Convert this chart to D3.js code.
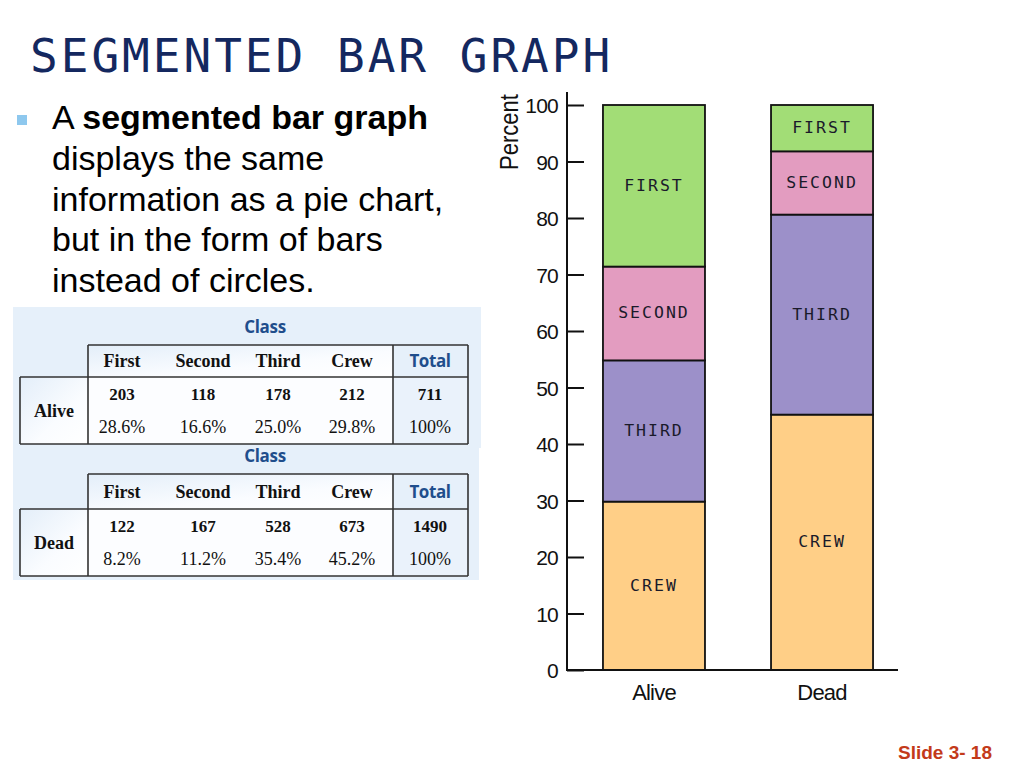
<!DOCTYPE html>
<html>
<head>
<meta charset="utf-8">
<script src="https://cdn.jsdelivr.net/npm/d3@7"></script>
<style>
  html, body { margin: 0; padding: 0; background: #ffffff; }
  svg { display: block; }
</style>
</head>
<body>
<svg id="slide" width="1024" height="768"></svg>
<script>
// ---------------- DATA ----------------
const groups = ["Alive", "Dead"];
const classNames = ["First", "Second", "Third", "Crew"];
const segmentLabels = ["FIRST", "SECOND", "THIRD", "CREW"];
const stackOrder = ["Crew", "Third", "Second", "First"]; // bottom to top
const aliveCounts = [203, 118, 178, 212];
const deadCounts = [122, 167, 528, 673];
const alivePct = [28.6, 16.6, 25.0, 29.8];
const deadPct = [8.2, 11.2, 35.4, 45.2];
const totals = [711, 1490];
const totalPct = ["100%", "100%"];
const yTicks = [0, 10, 20, 30, 40, 50, 60, 70, 80, 90, 100];
const classColors = ["#a2dd76", "#e39cc0", "#9c90c9", "#ffcf87"];

// ---------------- SETUP ----------------
const svg = d3.select("#slide");
const defs = svg.append("defs");
const grad = defs.append("linearGradient").attr("id", "cellGrad")
  .attr("x1", "0").attr("y1", "0").attr("x2", "1").attr("y2", "1");
grad.append("stop").attr("offset", "0%").attr("stop-color", "#e3eef9");
grad.append("stop").attr("offset", "60%").attr("stop-color", "#fafcff");
grad.append("stop").attr("offset", "100%").attr("stop-color", "#ffffff");

// Title
svg.append("text")
  .attr("x", 30).attr("y", 72)
  .attr("font-family", "DejaVu Sans Mono, monospace")
  .attr("font-size", 46)
  .attr("letter-spacing", 3)
  .attr("fill", "#14285f")
  .text("SEGMENTED BAR GRAPH");

// Bullet
svg.append("rect").attr("x", 17).attr("y", 115).attr("width", 10).attr("height", 10)
  .attr("fill", "#8ec8ee");

const bulletLines = [
  [["A ", "normal"], ["segmented bar graph", "bold"]],
  [["displays the same", "normal"]],
  [["information as a pie chart,", "normal"]],
  [["but in the form of bars", "normal"]],
  [["instead of circles.", "normal"]]
];
const bullet = svg.append("text")
  .attr("font-family", "Liberation Sans, Arial, sans-serif")
  .attr("font-size", 34)
  .attr("fill", "#000");
bulletLines.forEach((line, i) => {
  line.forEach((seg, j) => {
    const ts = bullet.append("tspan").attr("font-weight", seg[1]).text(seg[0]);
    if (j === 0) ts.attr("x", 52).attr("y", 129 + i * 40.8);
  });
});

// ---------------- TABLES ----------------
const colX = [122, 203, 278, 352, 430];
const tables = [
  { label: "Alive", counts: aliveCounts, pcts: alivePct, total: totals[0], tpct: totalPct[0],
    bg: [13, 307, 468, 141], hb: 345, hh: 32, dh: 67 },
  { label: "Dead", counts: deadCounts, pcts: deadPct, total: totals[1], tpct: totalPct[1],
    bg: [13, 448, 466, 132], hb: 474, hh: 35, dh: 67 }
];
const serif = "Liberation Serif, Times New Roman, serif";
const sans = "Open Sans, Liberation Sans, sans-serif";

tables.forEach(t => {
  const g = svg.append("g");
  g.append("rect").attr("x", t.bg[0]).attr("y", t.bg[1]).attr("width", t.bg[2]).attr("height", t.bg[3])
    .attr("fill", "#e6f0fa");
  const dTop = t.hb + t.hh, dBot = dTop + t.dh;
  g.append("rect").attr("x", 88).attr("y", t.hb).attr("width", 305).attr("height", t.hh).attr("fill", "url(#cellGrad)");
  g.append("rect").attr("x", 393).attr("y", t.hb).attr("width", 75).attr("height", t.hh).attr("fill", "#e6f0fa");
  g.append("rect").attr("x", 20).attr("y", dTop).attr("width", 68).attr("height", t.dh).attr("fill", "url(#cellGrad)");
  g.append("rect").attr("x", 88).attr("y", dTop).attr("width", 305).attr("height", t.dh).attr("fill", "#fcfdff");
  g.append("rect").attr("x", 393).attr("y", dTop).attr("width", 75).attr("height", t.dh).attr("fill", "#eaf2fb");
  const ln = (x1, y1, x2, y2) => g.append("line").attr("x1", x1).attr("y1", y1).attr("x2", x2).attr("y2", y2)
    .attr("stroke", "#333").attr("stroke-width", 1.6);
  ln(88, t.hb, 468, t.hb);
  ln(20, dTop, 468, dTop);
  ln(20, dBot, 468, dBot);
  ln(20, dTop, 20, dBot);
  ln(88, t.hb, 88, dBot);
  ln(393, t.hb, 393, dBot);
  ln(468, t.hb, 468, dBot);
  g.append("text").attr("x", 265).attr("y", t.hb - 12).attr("text-anchor", "middle")
    .attr("font-family", sans).attr("font-weight", 700).attr("font-size", 17).attr("fill", "#1f4e8c")
    .attr("letter-spacing", -0.3).text("Class");
  classNames.forEach((c, i) => {
    g.append("text").attr("x", colX[i]).attr("y", t.hb + t.hh / 2 + 6).attr("text-anchor", "middle")
      .attr("font-family", serif).attr("font-weight", 600).attr("font-size", 18).attr("fill", "#111").text(c);
  });
  g.append("text").attr("x", colX[4]).attr("y", t.hb + t.hh / 2 + 6).attr("text-anchor", "middle")
    .attr("font-family", sans).attr("font-weight", 700).attr("font-size", 17).attr("fill", "#1f4e8c")
    .attr("letter-spacing", -0.4).text("Total");
  g.append("text").attr("x", 54).attr("y", dTop + t.dh / 2 + 6).attr("text-anchor", "middle")
    .attr("font-family", serif).attr("font-weight", 700).attr("font-size", 18).attr("fill", "#111").text(t.label);
  t.counts.concat([t.total]).forEach((v, i) => {
    g.append("text").attr("x", colX[i]).attr("y", dTop + 23).attr("text-anchor", "middle")
      .attr("font-family", serif).attr("font-weight", 700).attr("font-size", 17).attr("fill", "#111").text(v);
  });
  t.pcts.map(p => p.toFixed(1) + "%").concat([t.tpct]).forEach((v, i) => {
    g.append("text").attr("x", colX[i]).attr("y", dTop + 56).attr("text-anchor", "middle")
      .attr("font-family", serif).attr("font-size", 18).attr("fill", "#111").text(v);
  });
});

// ---------------- CHART ----------------
const rows = groups.map((gname, gi) => {
  const pcts = gi === 0 ? alivePct : deadPct;
  const o = { group: gname };
  classNames.forEach((c, i) => { o[c] = pcts[i]; });
  return o;
});
const series = d3.stack().keys(stackOrder)(rows);

const y = d3.scaleLinear().domain([0, 100]).range([670, 105]);
const x = d3.scaleBand().domain(groups).range([567, 909]).paddingInner(0.393).paddingOuter(0.214);
const color = d3.scaleOrdinal().domain(classNames).range(classColors);
const labelOf = d3.scaleOrdinal().domain(classNames).range(segmentLabels);

const chart = svg.append("g");
const sg = chart.selectAll("g.series").data(series).join("g").attr("class", "series")
  .attr("fill", d => color(d.key));
sg.selectAll("rect").data(d => d).join("rect")
  .attr("x", d => x(d.data.group))
  .attr("width", x.bandwidth())
  .attr("y", d => y(d[1]))
  .attr("height", d => y(d[0]) - y(d[1]))
  .attr("stroke", "#111").attr("stroke-width", 1.8);

series.forEach(s => {
  s.forEach(d => {
    chart.append("text")
      .attr("x", x(d.data.group) + x.bandwidth() / 2)
      .attr("y", (y(d[0]) + y(d[1])) / 2 + 5)
      .attr("text-anchor", "middle")
      .attr("font-family", "DejaVu Sans Mono, monospace")
      .attr("font-size", 16.5)
      .attr("letter-spacing", 2)
      .attr("fill", "#1a1a2a")
      .text(labelOf(s.key));
  });
});

// Y axis
const yAxis = d3.axisLeft(y).tickValues(yTicks).tickSizeInner(-17).tickSizeOuter(0).tickPadding(9);
const yg = chart.append("g").attr("transform", "translate(567,0)").call(yAxis);
yg.select(".domain").remove();
yg.selectAll(".tick line").attr("stroke", "#111").attr("stroke-width", 2);
yg.selectAll(".tick text")
  .attr("font-family", "Liberation Sans, Arial, sans-serif")
  .attr("font-size", 21).attr("fill", "#111")
  .attr("letter-spacing", -0.8)
  .attr("dy", "0.36em");
chart.append("line").attr("x1", 567).attr("x2", 567).attr("y1", 92).attr("y2", 671)
  .attr("stroke", "#111").attr("stroke-width", 2);

// X axis
const xAxis = d3.axisBottom(x).tickSize(0).tickPadding(0);
const xg = chart.append("g").attr("transform", "translate(0,670)").call(xAxis);
xg.select(".domain").remove();
xg.selectAll(".tick text")
  .attr("font-family", "Liberation Sans, Arial, sans-serif")
  .attr("font-size", 22).attr("fill", "#111")
  .attr("dy", 0).attr("y", 30)
  .attr("letter-spacing", -0.8);
chart.append("line").attr("x1", 566).attr("x2", 898).attr("y1", 670).attr("y2", 670)
  .attr("stroke", "#111").attr("stroke-width", 2);

// Y label
chart.append("text")
  .attr("transform", "translate(518,132) rotate(-90)")
  .attr("text-anchor", "middle")
  .attr("font-family", "Liberation Sans, Arial, sans-serif")
  .attr("font-size", 26)
  .attr("textLength", 76).attr("lengthAdjust", "spacingAndGlyphs")
  .attr("fill", "#111")
  .text("Percent");

// Slide number
svg.append("text").attr("x", 992).attr("y", 759).attr("text-anchor", "end")
  .attr("font-family", "Liberation Sans, Arial, sans-serif")
  .attr("font-weight", 700).attr("font-size", 19).attr("fill", "#c33a1a")
  .text("Slide 3- 18");
</script>
</body>
</html>
